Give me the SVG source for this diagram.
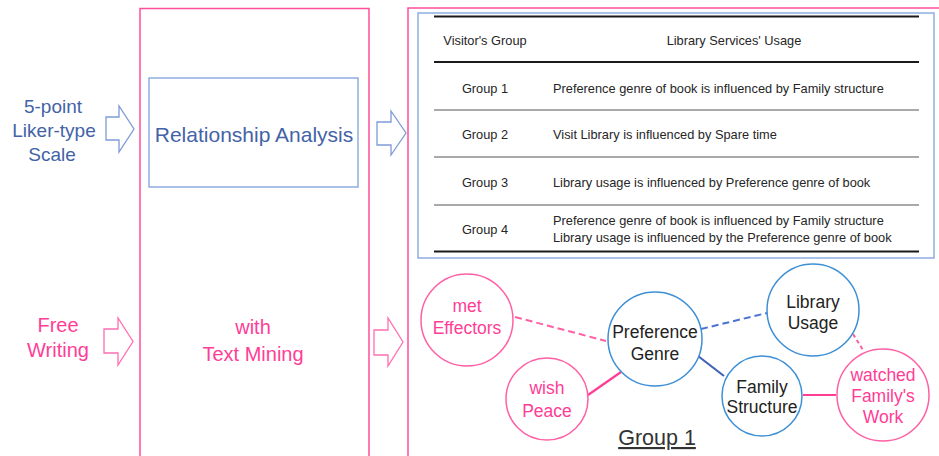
<svg xmlns="http://www.w3.org/2000/svg" width="939" height="456" viewBox="0 0 939 456">
<defs>
<style>
text{font-family:"Liberation Sans",Arial,sans-serif}
.frame{fill:none;stroke:#ff4d9c;stroke-width:1.5}
.bluebox{fill:none;stroke:#8eaee2;stroke-width:1.5}
.barrow{fill:none;stroke:#7e9ad6;stroke-width:1.3;stroke-linejoin:miter}
.parrow{fill:none;stroke:#ff6fb2;stroke-width:1.3;stroke-linejoin:miter}
.lbl-blue{fill:#4363a6;font-size:19px;text-anchor:middle}
.lbl-pink{fill:#ff3d96;font-size:20px;text-anchor:middle}
.tbl{fill:#262626;font-size:12.8px}
.thick{stroke:#1a1a1a;stroke-width:2}
.thin{stroke:#555;stroke-width:1}
.pc{fill:#fff;stroke:#ff5fa4;stroke-width:1.5}
.bc{fill:#fff;stroke:#3d8fd6;stroke-width:1.5}
.pt{fill:#ff3d96;font-size:17.5px;text-anchor:middle}
.bt{fill:#222;font-size:17.5px;text-anchor:middle}
</style>
</defs>
<rect width="939" height="456" fill="#fff"/>

<g id="stage-frames">
<rect class="frame" x="140" y="8.5" width="229" height="470"/>
<rect class="frame" x="408" y="8" width="560" height="470"/>
</g>

<g id="input-likert">
<text class="lbl-blue" x="53" y="113">5-point</text>
<text class="lbl-blue" x="54" y="137">Liker-type</text>
<text class="lbl-blue" x="52" y="161">Scale</text>
</g>

<g id="input-free-writing">
<text class="lbl-pink" x="58" y="332">Free</text>
<text class="lbl-pink" x="58" y="357">Writing</text>
</g>

<g id="relationship-analysis">
<rect class="bluebox" x="149" y="78" width="209" height="109"/>
<text x="254" y="142" fill="#4363a6" font-size="21" text-anchor="middle">Relationship Analysis</text>
</g>

<g id="text-mining">
<text class="lbl-pink" x="253" y="334" font-size="20.5">with</text>
<text class="lbl-pink" x="253" y="361" font-size="20.5">Text Mining</text>
</g>

<g id="connectors">
<polygon class="barrow" points="106,117 119,117 119,106 134,129 119,152 119,140 106,140"/>
<polygon class="barrow" points="377,122 391,122 391,111 406,133 391,155 391,145 377,145"/>
<polygon class="parrow" points="104,329 118,329 118,318 133,341.5 118,365 118,353 104,353"/>
<polygon class="parrow" points="374,330 388,330 388,318 403,342 388,366 388,355 374,355"/>
<line x1="515" y1="317" x2="606" y2="341" stroke="#ff5fa4" stroke-width="2" stroke-dasharray="7,4"/>
<line x1="588" y1="395" x2="621" y2="372" stroke="#ff3d96" stroke-width="2.2"/>
<line x1="701" y1="329" x2="767" y2="313" stroke="#4a72d4" stroke-width="2" stroke-dasharray="7,4"/>
<line x1="698" y1="356" x2="724" y2="376" stroke="#4262b8" stroke-width="2.2"/>
<line x1="853" y1="334" x2="863" y2="350" stroke="#ff5fa4" stroke-width="2" stroke-dasharray="4,3"/>
<line x1="803" y1="395" x2="836" y2="395" stroke="#ff3d96" stroke-width="2.2"/>
</g>

<g id="results-table">
<rect class="bluebox" x="418" y="13" width="516" height="245"/>
<line class="thick" x1="434" y1="16.5" x2="919" y2="16.5"/>
<line class="thick" x1="434" y1="62" x2="919" y2="62"/>
<line class="thin" x1="434" y1="110" x2="919" y2="110"/>
<line class="thin" x1="434" y1="157" x2="919" y2="157"/>
<line class="thin" x1="434" y1="205" x2="919" y2="205"/>
<line class="thick" x1="434" y1="251.5" x2="919" y2="251.5"/>
<text class="tbl" x="485" y="45" text-anchor="middle">Visitor's Group</text>
<text class="tbl" x="734" y="45" text-anchor="middle">Library Services' Usage</text>
<text class="tbl" x="485" y="93" text-anchor="middle">Group 1</text>
<text class="tbl" x="553" y="93">Preference genre of book is influenced by Family structure</text>
<text class="tbl" x="485" y="139" text-anchor="middle">Group 2</text>
<text class="tbl" x="553" y="139">Visit Library is influenced by Spare time</text>
<text class="tbl" x="485" y="187" text-anchor="middle">Group 3</text>
<text class="tbl" x="553" y="187">Library usage is influenced by Preference genre of book</text>
<text class="tbl" x="485" y="234" text-anchor="middle">Group 4</text>
<text class="tbl" x="553" y="225">Preference genre of book is influenced by Family structure</text>
<text class="tbl" x="553" y="242">Library usage is influenced by the Preference genre of book</text>
</g>

<g id="node-met-effectors">
<circle class="pc" cx="467" cy="320" r="46"/>
<text class="pt" x="467" y="312">met</text>
<text class="pt" x="467" y="334">Effectors</text>
</g>

<g id="node-wish-peace">
<circle class="pc" cx="547" cy="399" r="41"/>
<text class="pt" x="547" y="394">wish</text>
<text class="pt" x="547" y="417">Peace</text>
</g>

<g id="node-preference-genre">
<circle class="bc" cx="655" cy="339" r="47"/>
<text class="bt" x="655" y="338">Preference</text>
<text class="bt" x="655" y="360">Genre</text>
</g>

<g id="node-library-usage">
<circle class="bc" cx="813" cy="310" r="46"/>
<text class="bt" x="813" y="308">Library</text>
<text class="bt" x="813" y="329">Usage</text>
</g>

<g id="node-family-structure">
<circle class="bc" cx="762" cy="396" r="40"/>
<text class="bt" x="762" y="393">Family</text>
<text class="bt" x="762" y="413">Structure</text>
</g>

<g id="node-watched-family-work">
<circle class="pc" cx="883" cy="395" r="46"/>
<text class="pt" x="883" y="381">watched</text>
<text class="pt" x="883" y="402">Family's</text>
<text class="pt" x="883" y="423">Work</text>
</g>

<g id="group-label">
<text x="657" y="445" fill="#333" font-size="21.5" text-anchor="middle" text-decoration="underline">Group 1</text>
</g>
</svg>
